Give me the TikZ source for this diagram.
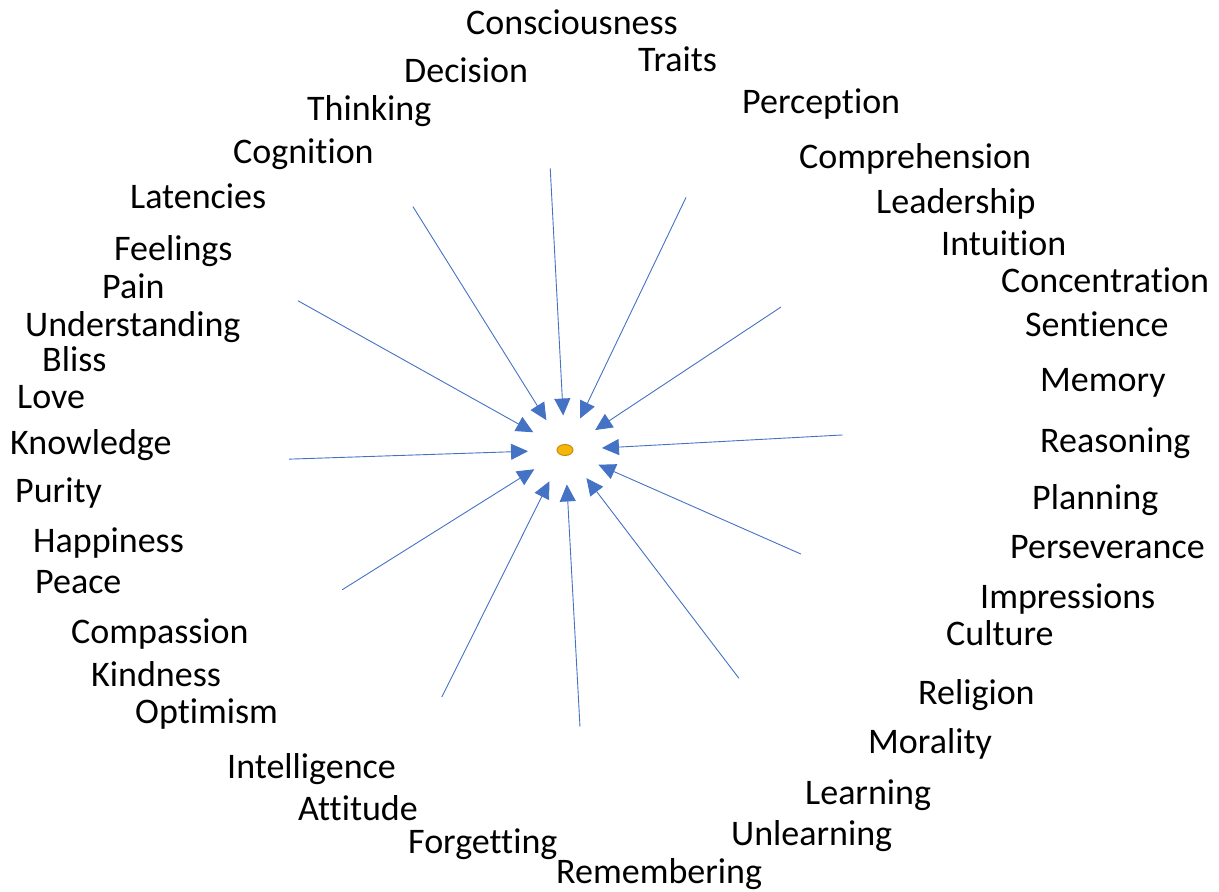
\documentclass[tikz,border=0pt]{standalone}
\usepackage{fontspec}
\setmainfont{Carlito}[Ligatures={NoCommon,NoContextual}]
\usetikzlibrary{arrows.meta,shapes.geometric}
\definecolor{spokeblue}{RGB}{68,114,196}
\definecolor{dotgold}{RGB}{245,182,10}
\definecolor{dotedge}{RGB}{200,140,20}
\tikzset{
  word/.style={font=\fontsize{36}{40}\selectfont, anchor=west, inner sep=0pt,
    text height=23pt, text depth=0pt},
  hub/.style={ellipse, draw=dotedge, fill=dotgold, line width=1pt,
    minimum width=16pt, minimum height=11pt, inner sep=0pt, outer sep=29pt}
}
\begin{document}
\begin{tikzpicture}[x=1pt,y=1pt]
      \useasboundingbox (0,0) rectangle (1219,892);
      \draw[nodes=word]
        (466,869) node (Consciousness){Consciousness}
        (638,832) node (Traits){Traits}
        (404,821) node (Decision){Decision}
        (307,783) node (Thinking){Thinking}
        (742,790) node (Perception){Perception}
        (233,740) node (Cognition){Cognition}
        (799,735) node (Comprehension){Comprehension}
        (130,695) node (Latencies){Latencies}
        (876,690) node (Leadership){Leadership}
        (114,643) node (Feelings){Feelings}
        (941,648) node (Intuition){Intuition}
        (102,605) node (Pain){Pain}
        (1001,611) node (Concentration){Concentration}
        (25,567) node (Understanding){Understanding}
        (1025,567) node (Sentience){Sentience}
        (42,532) node (Bliss){Bliss}
        (1040,512) node (Memory){Memory}
        (17,495) node (Love){Love}
        (10,449) node (Knowledge){Knowledge}
        (1040,451) node (Reasoning){Reasoning}
        (15,401) node (Purity){Purity}
        (1032,394) node (Planning){Planning}
        (33,351) node (Happiness){Happiness}
        (1010,345) node (Perseverance){Perseverance}
        (35,310) node (Peace){Peace}
        (980,295) node (Impressions){Impressions}
        (71,260) node (Compassion){Compassion}
        (946,258) node (Culture){Culture}
        (91,217) node (Kindness){Kindness}
        (918,199) node (Religion){Religion}
        (135,180) node (Optimism){Optimism}
        (868,150) node (Morality){Morality}
        (227,125) node (Intelligence){Intelligence}
        (805,99) node (Learning){Learning}
        (298,83) node (Attitude){Attitude}
        (731,58) node (Unlearning){Unlearning}
        (408,50) node (Forgetting){Forgetting}
        (556,20) node (Remembering){Remembering};
      \node[hub] (c) at (565,442) {};
      \path[shift={(565,442)}]
        (122.0:287) coordinate (0)
        (93.0:282) coordinate (1)
        (64.4:280) coordinate (2)
        (150.8:306) coordinate (3)
        (33.5:259) coordinate (4)
        (181.9:276) coordinate (5)
        (3.1:278) coordinate (6)
        (212.1:263) coordinate (7)
        (336.2:258) coordinate (8)
        (243.5:276) coordinate (9)
        (273.1:277) coordinate (10)
        (307.3:287) coordinate (11);
      \begin{scope}[-{Triangle[length=17pt,width=16pt]}, spokeblue, line width=0.9pt]
        \draw (0) to (c);
        \draw (1) to (c);
        \draw (2) to (c);
        \draw (3) to (c);
        \draw (4) to (c);
        \draw (5) to (c);
        \draw (6) to (c);
        \draw (7) to (c);
        \draw (8) to (c);
        \draw (9) to (c);
        \draw (10) to (c);
        \draw (11) to (c);
      \end{scope}
    \end{tikzpicture}
\end{document}
